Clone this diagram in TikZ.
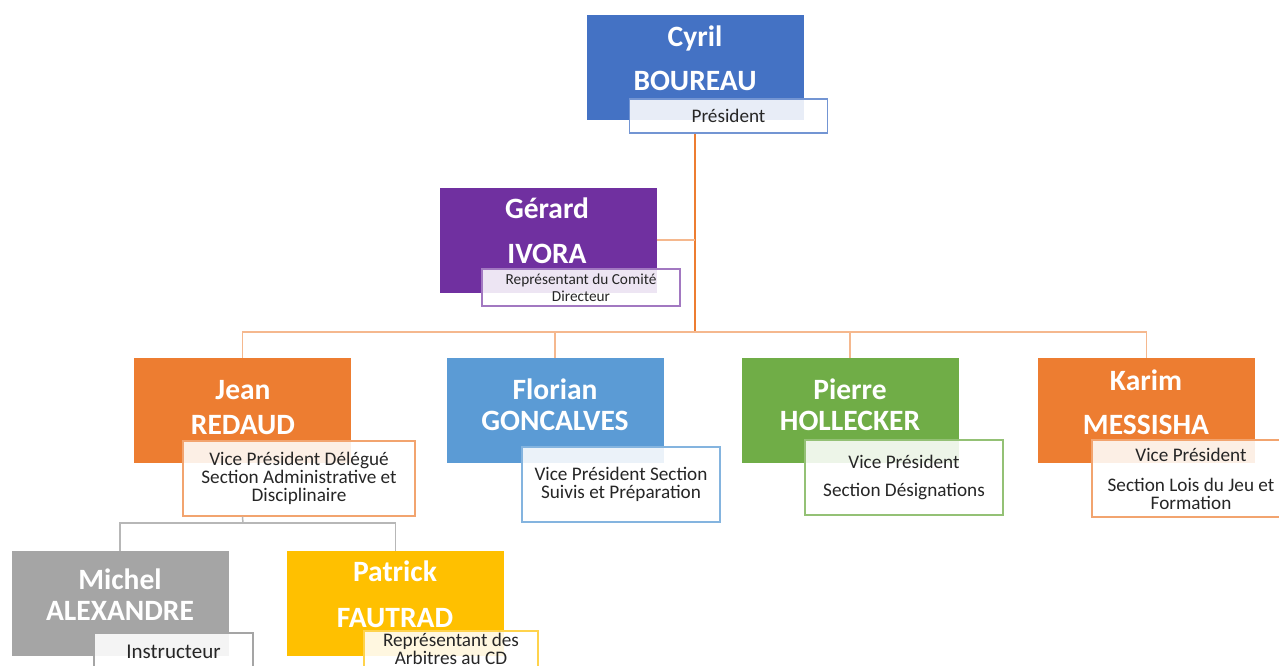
\documentclass[tikz,border=0pt]{standalone}
\usepackage{fontspec}
\setmainfont{Carlito}
\usetikzlibrary{positioning}

\definecolor{cblue}{HTML}{4472C4}
\definecolor{cpurple}{HTML}{7030A0}
\definecolor{corange}{HTML}{ED7D31}
\definecolor{clblue}{HTML}{5B9BD5}
\definecolor{cgreen}{HTML}{70AD47}
\definecolor{cgray}{HTML}{A5A5A5}
\definecolor{cyellow}{HTML}{FFC000}
\definecolor{rolegray}{HTML}{262626}

\begin{document}
\begin{tikzpicture}[x=1pt, y=-1pt,
    person/.style={rectangle, inner sep=0pt, minimum width=217pt, minimum height=105pt},
    nametext/.style={anchor=base, text=white, inner sep=0pt, font=\fontsize{29.5}{29.5}\selectfont\bfseries},
    role/.style={rectangle, line width=1.4pt, fill=white, fill opacity=0.88, text opacity=1,
        inner sep=0pt, minimum width=198pt, minimum height=75pt, align=center,
        text=rolegray, font=\fontsize{19.2}{18}\selectfont},
    trunk/.style={line width=2.2pt, corange},
    branch/.style={line width=1.8pt, corange!55},
    sub/.style={line width=1.5pt, cgray!80}]
    \useasboundingbox (0,0) rectangle (1279,666);

    % President
    \node[person, fill=cblue] (cyril) at (695,67.5) {};
    \node[nametext] at (695,47) {Cyril};
    \node[nametext] at (695,91) {BOUREAU};
    \node[role, draw=cblue!75, minimum height=34pt] (cyrilrole) at (728.5,116) {Président};

    % Comite directeur
    \node[person, fill=cpurple] (gerard) at (548,240) {};
    \node[nametext] at (547,218) {Gérard};
    \node[nametext] at (547,263) {IVORA};
    \node[role, draw=cpurple!65, minimum height=37pt, font=\fontsize{15.3}{17}\selectfont] (gerardrole) at (581,287.5)
        {Représentant du Comité\\Directeur};

    % Vice presidents
    \node[person, fill=corange] (jean) at (242.5,410.5) {};
    \node[nametext] at (243,399) {Jean};
    \node[nametext] at (243,434) {REDAUD};
    \node[role, draw=corange!70, minimum width=232pt] (jeanrole) at (299,478.5)
        {Vice Président Délégué\\Section Administrative et\\Disciplinaire};

    \node[person, fill=clblue] (florian) at (555,410.5) {};
    \node[nametext] at (555,399) {Florian};
    \node[nametext] at (555,430) {GONCALVES};
    \node[role, draw=clblue!75] (florianrole) at (621,484.5)
        {Vice Président Section\\Suivis et Préparation};

    \node[person, fill=cgreen] (pierre) at (850,410.5) {};
    \node[nametext] at (850,399) {Pierre};
    \node[nametext] at (850,430) {HOLLECKER};
    \node[role, draw=cgreen!75] (pierrerole) at (904,477.5)
        {Vice Président\\[10pt]Section Désignations};

    \node[person, fill=corange] (karim) at (1146.5,410.5) {};
    \node[nametext] at (1146,390) {Karim};
    \node[nametext] at (1146,434) {MESSISHA};
    \node[role, draw=corange!70, minimum height=77pt] (karimrole) at (1191,478.5)
        {Vice Président\\[12pt]Section Lois du Jeu et\\Formation};

    % Under Jean
    \node[person, fill=cgray] (michel) at (120,603.5) {};
    \node[nametext] at (120,589) {Michel};
    \node[nametext] at (120,620) {ALEXANDRE};
    \node[role, draw=cgray, minimum width=159pt, minimum height=38pt, font=\fontsize{21}{21}\selectfont] (michelrole) at (173.5,652)
        {Instructeur};

    \node[person, fill=cyellow] (patrick) at (395.5,603.5) {};
    \node[nametext] at (395,581) {Patrick};
    \node[nametext] at (395,627) {FAUTRAD};
    \node[role, draw=cyellow!70, minimum width=174pt, minimum height=36pt] (patrickrole) at (451,649)
        {Représentant des\\Arbitres au CD};

    % Connectors
    \coordinate (split) at (695,332);
    \coordinate (jsplit) at (243,523);
    \draw[trunk] (cyril |- cyrilrole.south) -- (split);
    \draw[branch] (gerard.east) -- (gerard.east -| split);
    \draw[branch] (jean.north) |- (split) -| (karim.north);
    \draw[branch] (florian.north) -- (florian |- split);
    \draw[branch] (pierre.north) -- (pierre |- split);
    \draw[sub] (jean |- jeanrole.south) -- (jsplit);
    \draw[sub] (michel.north) |- (jsplit) -| (patrick.north);
\end{tikzpicture}
\end{document}
